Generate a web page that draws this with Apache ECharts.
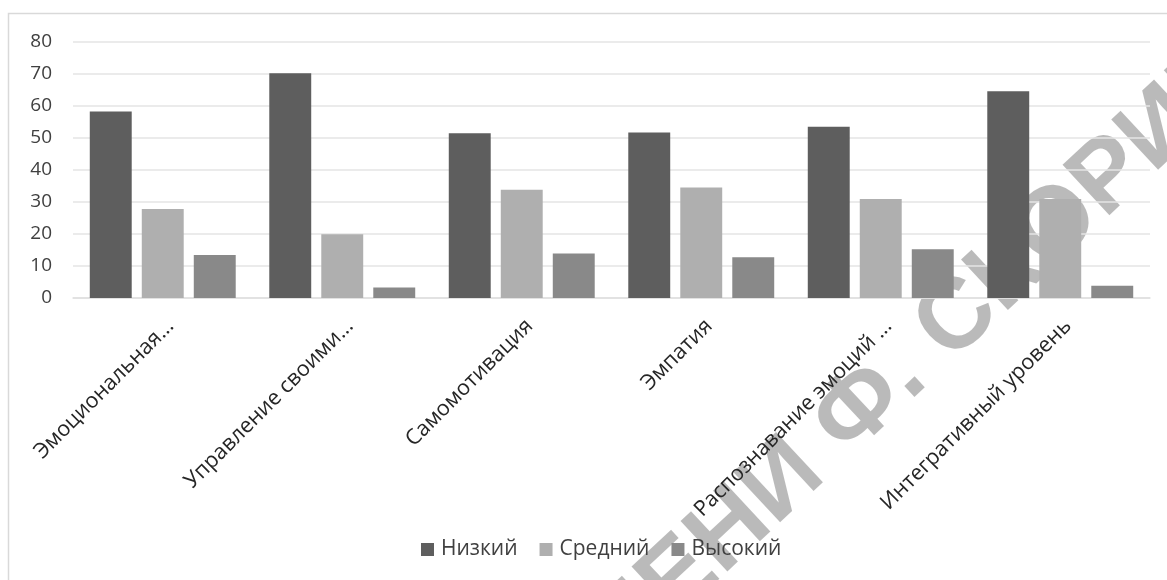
<!DOCTYPE html>
<html>
<head>
<meta charset="utf-8">
<script src="https://cdn.jsdelivr.net/npm/echarts@6/dist/echarts.min.js"></script>
<style>
html,body{margin:0;padding:0;background:#fff;}
#chart{width:1167px;height:580px;}
</style>
</head>
<body>
<div id="chart"></div>
<script>
const categories = ['Эмоциональная осведомленность', 'Управление своими эмоциями', 'Самомотивация', 'Эмпатия', 'Распознавание эмоций других людей', 'Интегративный уровень'];
const categoryLabels = ['Эмоциональная...', 'Управление своими...', 'Самомотивация', 'Эмпатия', 'Распознавание эмоций ...', 'Интегративный уровень'];
const seriesNames = ['Низкий', 'Средний', 'Высокий'];
const low = [58.3, 70.2, 51.5, 51.7, 53.5, 64.6];
const mid = [27.8, 19.9, 33.8, 34.5, 30.9, 30.9];
const high = [13.4, 3.3, 13.9, 12.7, 15.2, 3.8];
const yTicks = [0, 10, 20, 30, 40, 50, 60, 70, 80];
const colors = ['#5e5e5e', '#afafaf', '#898989'];

const chart = echarts.init(document.getElementById('chart'), null, {renderer: 'canvas'});
const font = '"Open Sans", Lato, sans-serif';

const labelMap = {};
categories.forEach((c, i) => { labelMap[c] = categoryLabels[i]; });

const wmFont = 'bold 100px "Liberation Sans"';
const wmFill = 'rgba(0,0,0,0.27)';

chart.setOption({
  backgroundColor: '#ffffff',
  animation: false,
  color: colors,
  grid: {left: 73, right: 17, top: 42, bottom: 282, containLabel: false},
  legend: {
    data: seriesNames,
    bottom: 15,
    left: 416,
    icon: 'rect',
    itemWidth: 13,
    itemHeight: 13,
    itemGap: 22,
    textStyle: {fontFamily: font, fontSize: 21, color: '#404040', padding: [0, 0, 0, 2]}
  },
  xAxis: {
    type: 'category',
    data: categories,
    axisLine: {show: true, lineStyle: {color: '#e0e0e0', width: 1.5}},
    axisTick: {show: false},
    axisLabel: {
      rotate: 45,
      interval: 0,
      margin: 17,
      verticalAlign: 'top',
      fontFamily: font,
      fontSize: 21.5,
      color: '#262626',
      formatter: v => labelMap[v]
    }
  },
  yAxis: {
    type: 'value',
    min: yTicks[0],
    max: yTicks[yTicks.length - 1],
    interval: 10,
    axisLine: {show: false},
    axisTick: {show: false},
    splitLine: {lineStyle: {color: '#e4e4e4', width: 1.5}},
    axisLabel: {margin: 21, fontFamily: font, fontSize: 19, color: '#404040'}
  },
  series: [
    {name: seriesNames[0], type: 'bar', data: low, barGap: '24%', barCategoryGap: '18.7%'},
    {name: seriesNames[1], type: 'bar', data: mid, barGap: '24%', barCategoryGap: '18.7%'},
    {name: seriesNames[2], type: 'bar', data: high, barGap: '24%', barCategoryGap: '18.7%'}
  ],
  graphic: [
    {type: 'rect', silent: true, z: -10, shape: {x: 8.5, y: 13.5, width: 1200, height: 620},
     style: {fill: 'none', stroke: '#d9d9d9', lineWidth: 1.5}},
    {type: 'group', x: 860, y: 410, rotation: 43 * Math.PI / 180, silent: true, z: 100,
     children: [
       {type: 'text', x: -42, y: 0, style: {text: 'РЕПОЗИТОРИЙ ГГУ ИМЕНИ ', font: wmFont, fill: wmFill, align: 'right', verticalAlign: 'middle'}},
       {type: 'text', x: 0, y: 0, style: {text: 'Ф', font: wmFont, fill: wmFill, align: 'center', verticalAlign: 'middle'}},
       {type: 'text', x: 42, y: 0, style: {text: '. СКОРИНЫ', font: wmFont, fill: wmFill, align: 'left', verticalAlign: 'middle'}}
     ]}
  ]
});
</script>
</body>
</html>
